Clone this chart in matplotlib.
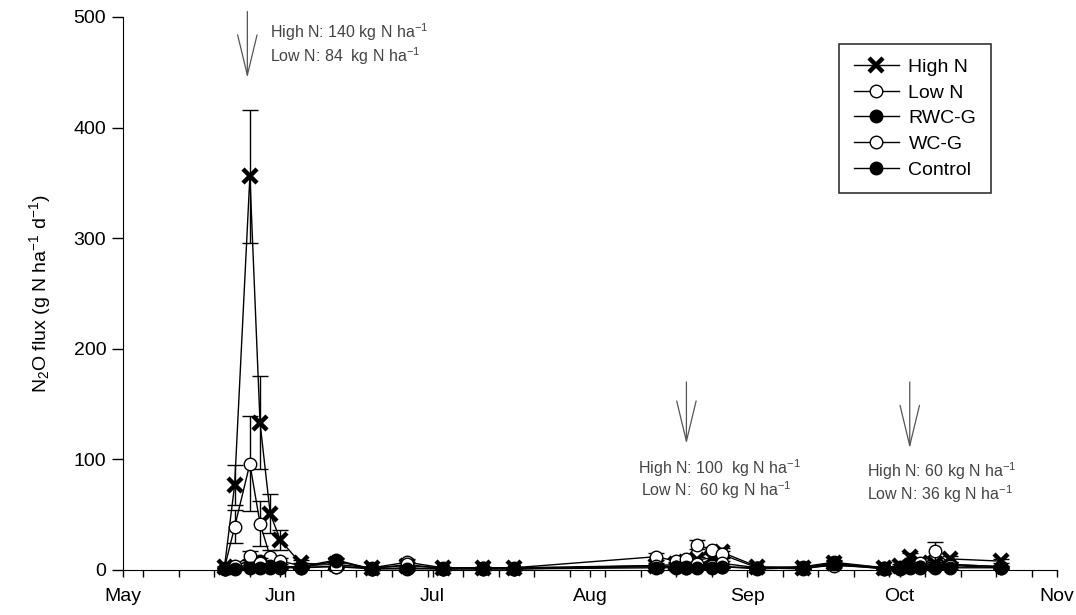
import numpy as np
import pandas as pd
import matplotlib
matplotlib.use("Agg")
import matplotlib.pyplot as plt
import matplotlib.dates as mdates

plt.rcParams["font.family"] = ["Liberation Sans", "DejaVu Sans"]
plt.rcParams["mathtext.default"] = "regular"

# sampling dates (season 2002)
dates = ["05-21", "05-23", "05-26", "05-28", "05-30", "06-01", "06-05", "06-12",
         "06-19", "06-26", "07-03", "07-11", "07-17", "08-14", "08-18", "08-20",
         "08-22", "08-25", "08-27", "09-03", "09-12", "09-18", "09-28", "10-01",
         "10-03", "10-05", "10-08", "10-11", "10-21"]

high_n = [3, 77, 356, 133, 51, 27, 6, 5, 2, 4, 2, 2, 2, 4, 5, 7, 9, 11, 16, 3,
          2, 6, 2, 4, 12, 6, 5, 10, 8]
high_n_se = [1, 18, 60, 42, 18, 9, 3, 2, 1, 2, 1, 1, 1, 2, 2, 2, 3, 3, 4, 1,
             1, 2, 1, 1, 3, 2, 2, 3, 2]
low_n = [2, 39, 96, 42, 12, 8, 4, 3, 2, 7, 2, 2, 2, 12, 8, 10, 23, 18, 14, 2,
         2, 4, 2, 3, 4, 6, 17, 5, 3]
low_n_se = [1, 15, 43, 20, 6, 3, 2, 1, 1, 3, 1, 1, 1, 3, 2, 2, 4, 3, 3, 1,
            1, 1, 1, 1, 1, 2, 8, 2, 1]
rwc_g = [1, 2, 5, 8, 4, 3, 3, 9, 1, 2, 1, 2, 1, 3, 3, 2, 3, 4, 3, 2, 3, 7, 2,
         2, 4, 3, 4, 5, 3]
rwc_g_se = [1, 1, 2, 3, 2, 1, 1, 2, 1, 1, 1, 1, 1, 1, 1, 1, 1, 1, 1, 1, 1, 2,
            1, 1, 1, 1, 1, 1, 1]
wc_g = [1, 4, 13, 6, 3, 3, 2, 3, 1, 5, 1, 1, 1, 4, 3, 3, 5, 4, 6, 2, 1, 5, 1,
        2, 3, 3, 2, 4, 2]
wc_g_se = [1, 2, 4, 2, 1, 1, 1, 1, 1, 2, 1, 1, 1, 1, 1, 1, 2, 1, 2, 1, 1, 1,
           1, 1, 1, 1, 1, 1, 1]
control = [1, 1, 2, 2, 2, 2, 2, 8, 1, 1, 1, 1, 1, 2, 2, 2, 2, 2, 3, 1, 2, 6, 1,
           1, 2, 2, 3, 2, 2]
control_se = [1, 1, 1, 1, 1, 1, 1, 2, 1, 1, 1, 1, 1, 1, 1, 1, 1, 1, 1, 1, 1,
              2, 1, 1, 1, 1, 1, 1, 1]

x = pd.to_datetime(["2002-" + d for d in dates])

fig = plt.figure(figsize=(10.76, 6.15), dpi=100)
ax = fig.add_axes([0.1143, 0.0732, 0.868, 0.8992])

series = [
    ("High N", high_n, high_n_se, dict(marker="x", ms=9.5, mew=3.2)),
    ("Low N", low_n, low_n_se, dict(marker="o", ms=9, mfc="white")),
    ("RWC-G", rwc_g, rwc_g_se, dict(marker="o", ms=9, mfc="black")),
    ("WC-G", wc_g, wc_g_se, dict(marker="o", ms=9, mfc="white")),
    ("Control", control, control_se, dict(marker="o", ms=9, mfc="black")),
]
handles = []
for name, y, se, style in series:
    ax.errorbar(x, y, yerr=se, fmt="none", ecolor="black", elinewidth=1,
                capsize=6, capthick=1, clip_on=False)
    h, = ax.plot(x, y, color="black", lw=1, mec="black", label=name,
                 clip_on=False, **style)
    handles.append(h)

ax.set_ylim(0, 500)
ax.set_xlim(pd.Timestamp("2002-05-01"), pd.Timestamp("2002-11-01"))
ax.set_yticks([0, 100, 200, 300, 400, 500])
ax.xaxis.set_major_locator(mdates.MonthLocator())
ax.xaxis.set_major_formatter(mdates.DateFormatter("%b"))
ax.xaxis.set_minor_locator(mdates.WeekdayLocator(byweekday=mdates.SU))
ax.tick_params(axis="x", which="both", direction="out", length=5, width=1,
               pad=8, labelsize=14)
ax.tick_params(axis="y", direction="out", length=8, width=1, pad=4, labelsize=14)
for s in ["top", "right"]:
    ax.spines[s].set_visible(False)

ax.set_ylabel("N$_2$O flux (g N ha$^{-1}$ d$^{-1}$)", fontsize=14)
ax.yaxis.set_label_coords(-0.075, 0.5)

leg = ax.legend(handles=handles, loc="upper right",
                bbox_to_anchor=(0.93, 0.945), bbox_transform=fig.transFigure,
                frameon=True, fancybox=False, fontsize=14, handlelength=2.3,
                numpoints=1, borderpad=0.75, labelspacing=0.42,
                handletextpad=0.5)
leg.get_frame().set_edgecolor("black")
leg.get_frame().set_linewidth(1.2)

# fertiliser application arrows and notes
grey = "#555555"
txt = "#444444"
arrows = [("2002-05-25 12:00", 505, 445), ("2002-08-20", 170, 114),
          ("2002-10-03", 170, 110)]
for d, y0, y1 in arrows:
    ax.annotate("", xy=(pd.Timestamp(d), y1), xytext=(pd.Timestamp(d), y0),
                annotation_clip=False,
                arrowprops=dict(arrowstyle="->,head_length=2.9,head_width=0.7",
                                color=grey, lw=0.9, mutation_scale=10,
                                shrinkA=0, shrinkB=0))

notes = [
    ("2002-05-30", 486, "High N: 140 kg N ha$^{-1}$"),
    ("2002-05-30", 465, "Low N: 84  kg N ha$^{-1}$"),
    ("2002-08-10 12:00", 92, "High N: 100  kg N ha$^{-1}$"),
    ("2002-08-11", 72, "Low N:  60 kg N ha$^{-1}$"),
    ("2002-09-24 14:00", 89, "High N: 60 kg N ha$^{-1}$"),
    ("2002-09-24 14:00", 69, "Low N: 36 kg N ha$^{-1}$"),
]
for d, y, s in notes:
    ax.text(pd.Timestamp(d), y, s, fontsize=11.5, color=txt, va="center",
            ha="left")

fig.savefig("out.png", dpi=100)
